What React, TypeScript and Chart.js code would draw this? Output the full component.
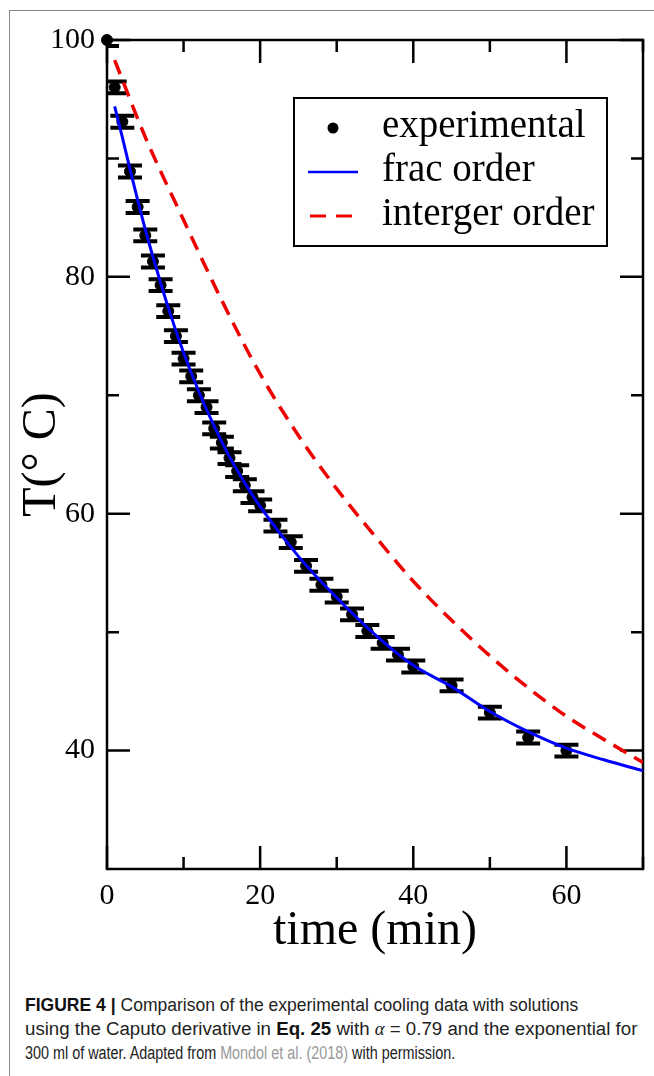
import React, { useEffect, useRef } from "react";
import { Chart, registerables } from "chart.js";

Chart.register(...registerables);

// ---- data ----
const expTime = [0, 1, 2, 3, 4, 5, 6, 7, 8, 9, 10, 11, 12, 13, 14, 15, 16, 17, 18, 19, 20, 22, 24, 26, 28, 30, 32, 34, 36, 38, 40, 45, 50, 55, 60];
const expTemp = [100, 96.0, 93.1, 88.9, 85.9, 83.5, 81.3, 79.3, 77.1, 75.0, 73.1, 71.6, 70.0, 69.0, 67.2, 66.0, 64.7, 63.6, 62.4, 61.4, 60.7, 59.0, 57.6, 55.6, 54.0, 53.0, 51.5, 50.1, 49.1, 48.1, 47.1, 45.5, 43.2, 41.1, 40.0];
const expErr = [0.5, 0.5, 0.5, 0.5, 0.5, 0.5, 0.5, 0.5, 0.5, 0.5, 0.5, 0.5, 0.5, 0.5, 0.5, 0.5, 0.5, 0.5, 0.5, 0.5, 0.5, 0.5, 0.5, 0.5, 0.5, 0.5, 0.5, 0.5, 0.5, 0.5, 0.5, 0.5, 0.5, 0.5, 0.5];

const fracTime = [1, 2, 3, 4, 5, 6, 8, 10, 12, 14, 16, 18, 20, 25, 30, 35, 40, 45, 50, 55, 60, 65, 70];
const fracTemp = [94.4, 91.8, 89.1, 86.5, 84.0, 81.7, 77.4, 73.6, 70.3, 67.4, 64.8, 62.6, 60.6, 56.4, 52.9, 49.8, 47.2, 45.4, 43.3, 41.6, 40.2, 39.2, 38.3];

const intTime = [1, 5, 10, 15, 20, 25, 30, 35, 40, 45, 50, 55, 60, 65, 70];
const intTemp = [98.3, 91.8, 84.8, 78.0, 71.8, 66.6, 62.1, 58.1, 54.3, 51.0, 48.0, 45.3, 42.9, 40.9, 39.0];

const xMajorTicks = [0, 20, 40, 60];
const xMinorTicks = [10, 30, 50, 70];
const yMajorTicks = [40, 60, 80, 100];
const yMinorTicks = [50, 70, 90];

const legendLabels = ["experimental", "frac order", "interger order"];

const SERIF = '"Liberation Serif", "Times New Roman", serif';

const framePlugin = {
  id: "framePlugin",
  beforeDatasetsDraw(chart: any) {
    const { ctx, chartArea: ca } = chart;
    const xs = chart.scales.x;
    const ys = chart.scales.y;
    ctx.save();
    ctx.strokeStyle = "#000";
    ctx.lineWidth = 2.5;
    ctx.strokeRect(ca.left, ca.top, ca.right - ca.left, ca.bottom - ca.top);
    const major = 23;
    const minor = 12;
    ctx.beginPath();
    const xt = (vals: number[], len: number) => {
      for (const v of vals) {
        const p = xs.getPixelForValue(v);
        ctx.moveTo(p, ca.bottom);
        ctx.lineTo(p, ca.bottom - len);
        ctx.moveTo(p, ca.top);
        ctx.lineTo(p, ca.top + len);
      }
    };
    const yt = (vals: number[], len: number) => {
      for (const v of vals) {
        const p = ys.getPixelForValue(v);
        ctx.moveTo(ca.left, p);
        ctx.lineTo(ca.left + len, p);
        ctx.moveTo(ca.right, p);
        ctx.lineTo(ca.right - len, p);
      }
    };
    xt(xMajorTicks, major);
    xt(xMinorTicks, minor);
    yt(yMajorTicks, major);
    yt(yMinorTicks, minor);
    ctx.stroke();

    // error bars
    ctx.beginPath();
    ctx.rect(ca.left, ca.top, ca.right - ca.left, ca.bottom - ca.top);
    ctx.clip();
    ctx.lineWidth = 4;
    ctx.beginPath();
    for (let i = 0; i < expTime.length; i++) {
      const px = xs.getPixelForValue(expTime[i]);
      const pTop = ys.getPixelForValue(expTemp[i] + expErr[i]);
      const pBot = ys.getPixelForValue(expTemp[i] - expErr[i]);
      ctx.moveTo(px, pTop);
      ctx.lineTo(px, pBot);
      ctx.moveTo(px - 12, pTop);
      ctx.lineTo(px + 12, pTop);
      ctx.moveTo(px - 12, pBot);
      ctx.lineTo(px + 12, pBot);
    }
    ctx.stroke();
    ctx.restore();
  },
  afterDraw(chart: any) {
    const { ctx, chartArea: ca } = chart;
    ctx.save();
    const bx = ca.left + 187;
    const by = ca.top + 58;
    const bw = ca.right - 36 - bx;
    const bh = 148;
    ctx.fillStyle = "#fff";
    ctx.fillRect(bx, by, bw, bh);
    ctx.strokeStyle = "#000";
    ctx.lineWidth = 2;
    ctx.strokeRect(bx, by, bw, bh);
    const rows = [by + 30, by + 74, by + 118];
    ctx.fillStyle = "#000";
    ctx.beginPath();
    ctx.arc(bx + 39, rows[0], 5.5, 0, Math.PI * 2);
    ctx.fill();
    ctx.strokeStyle = "#0000ff";
    ctx.lineWidth = 2.5;
    ctx.beginPath();
    ctx.moveTo(bx + 14, rows[1]);
    ctx.lineTo(bx + 64, rows[1]);
    ctx.stroke();
    ctx.strokeStyle = "#ee0000";
    ctx.lineWidth = 3;
    ctx.setLineDash([16, 10]);
    ctx.beginPath();
    ctx.moveTo(bx + 16, rows[2]);
    ctx.lineTo(bx + 64, rows[2]);
    ctx.stroke();
    ctx.setLineDash([]);
    ctx.fillStyle = "#000";
    ctx.font = `39px ${SERIF}`;
    ctx.textAlign = "left";
    ctx.textBaseline = "alphabetic";
    legendLabels.forEach((t, i) => ctx.fillText(t, bx + 88, rows[i] + 9));
    ctx.restore();
  },
};

const captionWidths = [553, 612, 430];

export default function App() {
  const ref = useRef<HTMLCanvasElement | null>(null);
  const lineRefs = useRef<(HTMLSpanElement | null)[]>([]);

  useEffect(() => {
    lineRefs.current.forEach((el, i) => {
      if (!el) return;
      const w = el.offsetWidth;
      if (w > 0) el.style.transform = `scaleX(${captionWidths[i] / w})`;
    });
  }, []);

  useEffect(() => {
    if (!ref.current) return;
    const chart = new Chart(ref.current, {
      type: "scatter",
      data: {
        datasets: [
          {
            label: legendLabels[0],
            data: expTime.map((t, i) => ({ x: t, y: expTemp[i] })),
            backgroundColor: "#000",
            borderColor: "#000",
            pointRadius: 5.5,
            pointHoverRadius: 5.5,
            showLine: false,
            clip: false as any,
            order: 3,
          },
          {
            label: legendLabels[1],
            data: fracTime.map((t, i) => ({ x: t, y: fracTemp[i] })),
            showLine: true,
            borderColor: "#0000ff",
            backgroundColor: "#0000ff",
            borderWidth: 3,
            pointRadius: 0,
            cubicInterpolationMode: "monotone",
            order: 1,
          },
          {
            label: legendLabels[2],
            data: intTime.map((t, i) => ({ x: t, y: intTemp[i] })),
            showLine: true,
            borderColor: "#ee0000",
            backgroundColor: "#ee0000",
            borderWidth: 3.5,
            borderDash: [15, 9],
            pointRadius: 0,
            cubicInterpolationMode: "monotone",
            order: 2,
          },
        ],
      },
      options: {
        responsive: false,
        animation: false,
        events: [],
        layout: { padding: { left: 8, top: 40, right: 11, bottom: 0 } },
        plugins: {
          legend: { display: false },
          tooltip: { enabled: false },
        },
        scales: {
          x: {
            type: "linear",
            min: 0,
            max: 70,
            grid: { display: false, drawTicks: false },
            border: { display: false },
            afterBuildTicks: (s: any) => {
              s.ticks = xMajorTicks.map((v) => ({ value: v }));
            },
            afterFit: (s: any) => {
              s.height = 111;
            },
            ticks: {
              autoSkip: false,
              maxRotation: 0,
              padding: 9,
              color: "#000",
              font: { family: SERIF, size: 30 },
            },
            title: {
              display: true,
              text: "time (min)",
              color: "#000",
              font: { family: SERIF, size: 48 },
              padding: { top: 0, bottom: 20 },
            },
          },
          y: {
            type: "linear",
            min: 30,
            max: 100,
            grid: { display: false, drawTicks: false },
            border: { display: false },
            afterBuildTicks: (s: any) => {
              s.ticks = yMajorTicks.map((v) => ({ value: v }));
            },
            afterFit: (s: any) => {
              s.width = 99;
            },
            ticks: {
              autoSkip: false,
              padding: 12,
              color: "#000",
              font: { family: SERIF, size: 30 },
            },
            title: {
              display: true,
              text: "T(° C)",
              color: "#000",
              font: { family: SERIF, size: 48 },
              padding: { top: 6, bottom: 0 },
            },
          },
        },
      },
      plugins: [framePlugin],
    });
    return () => chart.destroy();
  }, []);

  const lineStyle: React.CSSProperties = { display: "inline-block", transformOrigin: "0 50%", whiteSpace: "nowrap" };

  return (
    <div style={{ position: "absolute", left: 0, top: 0, width: 654, height: 1076, background: "#fff", overflow: "hidden" }}>
      <div
        style={{
          position: "absolute",
          left: 9,
          top: 10,
          width: 645,
          height: 1066,
          borderTop: "1px solid #8a8a8a",
          borderLeft: "1px solid #8a8a8a",
          boxSizing: "border-box",
        }}
      />
      <canvas ref={ref} width={654} height={980} style={{ position: "absolute", left: 0, top: 0 }} />
      <div
        style={{
          position: "absolute",
          left: 25,
          top: 993,
          font: '18px "Liberation Sans", Arial, sans-serif',
          lineHeight: "24px",
          color: "#222",
          whiteSpace: "nowrap",
        }}
      >
        <div>
          <span ref={(el) => { lineRefs.current[0] = el; }} style={lineStyle}>
            <b style={{ color: "#111" }}>FIGURE 4 |</b> Comparison of the experimental cooling data with solutions
          </span>
        </div>
        <div>
          <span ref={(el) => { lineRefs.current[1] = el; }} style={lineStyle}>
            using the Caputo derivative in <b style={{ color: "#111" }}>Eq. 25</b> with <i style={{ fontFamily: SERIF }}>α</i> = 0.79 and the exponential for
          </span>
        </div>
        <div>
          <span ref={(el) => { lineRefs.current[2] = el; }} style={lineStyle}>
            300 ml of water. Adapted from <span style={{ color: "#999" }}>Mondol et al. (2018)</span> with permission.
          </span>
        </div>
      </div>
    </div>
  );
}
